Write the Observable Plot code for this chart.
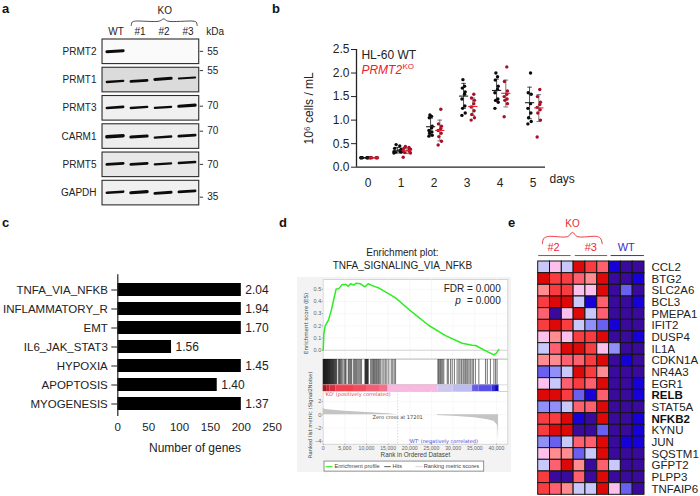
<!DOCTYPE html>
<html><head><meta charset="utf-8">
<script src="https://cdn.jsdelivr.net/npm/d3@7"></script>
<script src="https://cdn.jsdelivr.net/npm/@observablehq/plot@0.6"></script>
<style>
html,body{margin:0;padding:0;background:#fff}
#root{position:relative;width:700px;height:496px;overflow:hidden;font-family:"Liberation Sans",Arial,sans-serif}
#root svg{position:absolute;overflow:visible}
.tag{position:absolute;font-weight:bold;font-size:13px;line-height:13px;color:#111}
#gsea-bg{position:absolute;left:297px;top:277px;width:214px;height:195px;background:#f3f3f3}
</style></head><body><div id="root"><div id="gsea-bg"></div></div>
<script>
// ---------- panel a ----------
const blotRows = ["PRMT2","PRMT1","PRMT3","CARM1","PRMT5","GAPDH"];
const blotBackground = [0.02,0.14,0.06,0.07,0.09,0.06];
const blotLanes = ["WT","#1","#2","#3"];
const blotBandPos = [
  [0.42,null,null,null],
  [1.49,1.47,1.40,1.37],
  [2.41,2.41,2.41,2.35],
  [3.43,3.44,3.46,3.41],
  [4.41,4.41,4.41,4.36],
  [5.41,5.41,5.43,5.38]];
const blotBandStrength = [
  [3.0,0,0,0],
  [2.4,2.6,3.0,2.0],
  [2.6,2.4,2.2,3.2],
  [3.4,3.0,2.4,2.8],
  [2.8,2.8,2.2,2.4],
  [2.6,3.2,2.8,2.6]];
const kdaLabels = ["55","55","70","70","70","35"];
const kdaPos = [0.42,1.10,2.36,3.245,4.42,5.58];
const koBraceA = [[0.675,-0.495],[0.72,-0.62],[0.85,-0.65],[1.85,-0.65],[2.03,-0.73],[2.2,-0.65],[3.25,-0.65],[3.38,-0.62],[3.425,-0.495]];

// ---------- panel b ----------
const days = [0,1,2,3,4,5];
const wtCells = [
  [0.2,0.2,0.2,0.2,0.2,0.2],
  [0.30,0.32,0.32,0.33,0.33,0.35,0.38,0.40,0.45,0.48],
  [0.66,0.68,0.72,0.75,0.78,0.83,0.87,1.05,1.08,1.11],
  [1.10,1.15,1.25,1.30,1.45,1.55,1.60,1.68,1.72,1.86],
  [1.25,1.38,1.42,1.45,1.58,1.65,1.72,1.85,1.92,2.00],
  [0.92,0.97,1.05,1.15,1.25,1.35,1.55,1.58,2.00]];
const koCells = [
  [0.2,0.2,0.2,0.2,0.2,0.2],
  [0.21,0.30,0.31,0.33,0.35,0.36,0.38,0.40,0.42,0.44],
  [0.47,0.55,0.65,0.72,0.78,0.82,0.87,0.92,1.23],
  [1.00,1.05,1.12,1.20,1.28,1.35,1.42,1.47,1.55],
  [1.07,1.35,1.42,1.45,1.50,1.55,1.62,1.82,2.13],
  [0.64,1.00,1.15,1.22,1.27,1.33,1.38,1.50,1.65]];
const swarm = [-0.05,0.05,-0.03,0.04,-0.05,0.03,0.05,-0.04,0.03,-0.02];
const swarmSpread = [2.2,2.2,1,1,1,1];
const wtMean = [0.2,0.36,0.86,1.51,1.63,1.37];
const wtLow = [0.2,0.30,0.68,1.25,1.40,1.03];
const wtHigh = [0.2,0.42,1.04,1.78,1.87,1.70];
const koMean = [0.2,0.35,0.78,1.29,1.57,1.26];
const koLow = [0.2,0.29,0.56,1.10,1.28,0.97];
const koHigh = [0.2,0.41,1.00,1.47,1.85,1.54];

// ---------- panel c ----------
const sets = ["TNFA_VIA_NFKB","INFLAMMATORY_R","EMT","IL6_JAK_STAT3","HYPOXIA","APOPTOSIS","MYOGENESIS"];
const geneCounts = [200,200,200,87,200,161,200];
const nes = ["2.04","1.94","1.70","1.56","1.45","1.40","1.37"];

// ---------- panel d ----------
const esRank = [0,154,460,1230,1850,2460,3000,3620,4390,5160,5775,6310,7080,7620,8620,9625,10400,11320,12860,14780,16700,20550,24400,28250,32100,34400,35200,37100,39400,40000,40560];
const esValue = [0,0.136,0.2,0.249,0.325,0.42,0.503,0.505,0.54,0.54,0.525,0.545,0.535,0.55,0.545,0.52,0.545,0.53,0.51,0.47,0.429,0.312,0.203,0.12,0.057,0.041,0.039,0.003,-0.038,-0.024,0.005];
const hits = [0,60,130,200,270,340,420,490,570,640,720,800,880,960,1040,1120,1200,1290,1380,1470,1560,1650,1750,1850,1950,2050,2150,2260,2370,2480,2600,2720,2850,2980,3080,
 3480,3650,3800,3950,4150,4350,4600,4950,5120,5280,5790,5950,6150,6350,6530,6950,7200,7420,7640,7840,8100,8350,8620,8850,
 9640,9730,9820,9930,10020,10120,10220,10320,10400,10950,11200,11450,11600,11850,12050,12300,12500,12750,12950,13200,13600,14000,14350,14700,15150,15720,16050,16400,16700,
 26480,26650,26900,27100,27350,27600,27850,28650,28900,29400,29800,30300,30920,31320,31600,31950,32300,32550,32850,33150,33400,33700,34050,34400,34700,35150,35940,37480,37900,38620,39420,39800,40150];
const barStart = [0,800,1600,3000,7000,10000,13000,15000,26500,30000,34500,36000,39000,39800];
const barEnd = [800,1600,3000,7000,10000,13000,15000,26500,30000,34500,36000,39000,39800,40600];
const barScore = [5,4.4,3.8,3,2.8,2.5,2.2,1,-0.8,-1.2,-2.8,-3,-4,-5];
const metricRank = [0,300,1000,5000,10000,15000,17201,26400,26401,30000,35000,38000,39500,40300,40500];
const metricValue = [1.0,0.85,0.75,0.55,0.35,0.15,0,0,-0.1,-0.2,-0.45,-0.75,-1.0,-1.6,-4];
const esTicks = [0,0.1,0.2,0.3,0.4,0.5];
const metricTicks = [2,0,-2,-4];
const rankTicks = [0,5000,10000,15000,20000,25000,30000,35000,40000];

// ---------- panel e ----------
const heatGenes = ["CCL2","BTG2","SLC2A6","BCL3","PMEPA1","IFIT2","DUSP4","IL1A","CDKN1A","NR4A3","EGR1","RELB","STAT5A","NFKB2","KYNU","JUN","SQSTM1","GFPT2","PLPP3","TNFAIP6"];
const heatBold = ["RELB","NFKB2"];
const heatValues = [
 [-1,1,-1,5,4,3,-4,-5,-5],
 [5,4,4,3,2,5,-5,-5,-4],
 [2,4,4,1,1,5,-5,-3,-5],
 [4,5,5,-1,-4,3,-5,-5,-4],
 [3,-5,1,5,-1,3,-5,-5,-5],
 [4,5,4,-1,-2,-3,-4,-5,-5],
 [1,2,1,4,4,5,-5,-5,-4],
 [-1,3,5,5,4,1,-2,-5,-5],
 [2,2,3,3,4,5,-5,-4,-5],
 [-3,-2,-1,5,4,2,-5,-5,-5],
 [1,-1,3,4,3,5,-5,-5,-4],
 [5,5,4,-3,-4,3,-5,-5,-4],
 [-2,-2,-1,3,3,5,-5,-5,-5],
 [4,4,5,-4,-5,5,-5,-5,-4],
 [4,5,5,-5,-5,-3,-5,-5,-4],
 [-2,-3,-1,3,3,5,-5,-4,-4],
 [1,2,2,-3,-1,5,-5,-5,-5],
 [-1,3,5,2,-5,3,-1,-5,-5],
 [4,-5,-5,3,-5,5,-5,-5,-5],
 [4,3,2,-1,-1,5,1,-3,-5]];
const heatLevels = [-5,-4,-3,-2,-1,1,2,3,4,5];
const heatColors = ["#3a0a9c","#1800d8","#6a60f0","#9090f8","#c8c8fa","#fdc0ec","#ff8c90","#ff6070","#f83c40","#dd0808"];
const koBraceE = [[0.36,-1.52],[0.45,-1.95],[0.8,-2.14],[2.5,-2.14],[2.9,-2.5],[3.3,-2.14],[5.0,-2.14],[5.3,-1.95],[5.42,-1.52]];

// ---------- helpers ----------
const root = document.getElementById("root");
const FONT = '"Liberation Sans",Arial,sans-serif';
const JAVA = '"DejaVu Sans",sans-serif';
function place(plot,left,top){plot.style.left=left+"px";plot.style.top=top+"px";root.appendChild(plot);}
function tag(t,x,y){const d=document.createElement("div");d.className="tag";d.textContent=t;d.style.left=x+"px";d.style.top=y+"px";root.appendChild(d);}
const baseStyle = {fontFamily:FONT,background:"transparent",overflow:"visible"};
const soften = r => (i,s,v,d,c,next)=>{const g=next(i,s,v,d,c);g.style.filter=`blur(${r}px)`;return g;};
const zip = (a,b)=>a.map((v,i)=>[v,b[i]]);

// ---------- panel a ----------
{
  const rowsData = blotRows.map((r,i)=>({row:r,i,bg:blotBackground[i]}));
  const bands = blotBandPos.flatMap((row,i)=>row.map((y,l)=>({l,y,s:blotBandStrength[i][l]})).filter(d=>d.y!=null));
  const lanes = blotLanes.map((t,i)=>({t,i}));
  const kda = kdaLabels.map((t,i)=>({t,y:kdaPos[i]}));
  place(Plot.plot({
    width:250,height:215,margin:0,style:baseStyle,
    x:{domain:[-4.771,5.646],axis:null},
    y:{domain:[-1.38,6.228],axis:null,reverse:true},
    color:{type:"linear",domain:[0,1],range:["#ffffff","#000000"]},
    marks:[
      Plot.rect(rowsData,{x1:-0.52,x2:3.51,y1:d=>d.i,y2:d=>d.i+0.87,fill:"bg",stroke:"#2c2c2c",strokeWidth:1.1}),
      Plot.link(bands,{x1:d=>d.l-0.34,x2:d=>d.l+0.34,y1:d=>d.y+0.012,y2:d=>d.y-0.025,stroke:"#0c0c0c",strokeWidth:d=>d.s,strokeLinecap:"round",render:soften(0.6)}),
      Plot.text(rowsData,{x:-0.52,y:d=>d.i+0.43,text:"row",textAnchor:"end",dx:-6,fontSize:10,fill:"#222"}),
      Plot.text(lanes,{x:"i",y:-0.28,text:"t",fontSize:10,fill:"#222",dx:1}),
      Plot.text(["KO"],{x:2.07,y:-1.0,text:d=>d,fontSize:10,fill:"#222"}),
      Plot.text(["kDa"],{x:3.51,y:-0.28,text:d=>d,textAnchor:"start",dx:7,fontSize:10,fill:"#222"}),
      Plot.line(koBraceA,{x:d=>d[0],y:d=>d[1],stroke:"#222",strokeWidth:0.8,curve:"catmull-rom"}),
      Plot.link(kda,{x1:3.53,x2:3.67,y1:"y",y2:"y",stroke:"#222",strokeWidth:0.9}),
      Plot.text(kda,{x:3.51,y:"y",text:"t",textAnchor:"start",dx:8,fontSize:10,fill:"#222"})
    ]
  }),0,0);
}

// ---------- panel b ----------
{
  const OFF_WT=-0.11, OFF_KO=0.17;
  const pts=(arr,off,g)=>arr.flatMap((vals,day)=>vals.map((v,i)=>({x:day+off+swarm[i%swarm.length]*swarmSpread[day],v,g})));
  const stat=(m,lo,hi,off)=>days.map(d=>({x:d+off,m:m[d],lo:lo[d],hi:hi[d]}));
  const wS=stat(wtMean,wtLow,wtHigh,OFF_WT), kS=stat(koMean,koLow,koHigh,OFF_KO);
  const errs=(S,c)=>[
    Plot.ruleX(S,{x:"x",y1:"lo",y2:"hi",stroke:c,strokeWidth:0.8}),
    Plot.link(S,{x1:d=>d.x-0.07,x2:d=>d.x+0.07,y1:"lo",y2:"lo",stroke:c,strokeWidth:0.8}),
    Plot.link(S,{x1:d=>d.x-0.07,x2:d=>d.x+0.07,y1:"hi",y2:"hi",stroke:c,strokeWidth:0.8})];
  place(Plot.plot({
    width:300,height:210,marginLeft:86,marginRight:25,marginTop:49,marginBottom:43.3,style:baseStyle,
    x:{domain:[-0.355,5.373],axis:null},
    y:{domain:[0,2.5],axis:null},
    marks:[
      Plot.axisY({ticks:[0,0.5,1,1.5,2,2.5],tickFormat:d3.format(".1f"),tickSize:5,tickPadding:2,fontSize:12,label:null,stroke:"#222",fill:"#222"}),
      Plot.axisX({ticks:days,tickFormat:d=>d,tickSize:0,tickPadding:11,fontSize:12,label:null,fill:"#222"}),
      Plot.ruleX([-0.355],{stroke:"#222",strokeWidth:1.3}),
      Plot.ruleY([0],{stroke:"#222",strokeWidth:1.3}),
      ...errs(wS,"#222"),...errs(kS,"#555"),
      Plot.dot(pts(wtCells,OFF_WT,"WT"),{x:"x",y:"v",r:1.7,fill:"#0a0a0a"}),
      Plot.dot(pts(koCells,OFF_KO,"KO"),{x:"x",y:"v",r:1.7,fill:"#a80f28"}),
      Plot.link(wS,{x1:d=>d.x-0.14,x2:d=>d.x+0.14,y1:"m",y2:"m",stroke:"#222",strokeWidth:1.1}),
      Plot.link(kS,{x1:d=>d.x-0.14,x2:d=>d.x+0.14,y1:"m",y2:"m",stroke:"#e8202a",strokeWidth:1.1}),
      Plot.text(["HL-60 WT"],{x:-0.205,y:2.39,text:d=>d,textAnchor:"start",fontSize:12,fill:"#222"}),
      Plot.text(["PRMT2"],{x:-0.205,y:2.07,text:d=>d,textAnchor:"start",fontSize:12,fontStyle:"italic",fill:"#e8202a"}),
      Plot.text(["KO"],{x:1.04,y:2.15,text:d=>d,textAnchor:"start",fontSize:8,fill:"#e8202a"}),
      Plot.text(["10\u2076 cells / mL"],{x:-0.355,y:1.25,text:d=>d,rotate:-90,dx:-47,fontSize:12,fill:"#222"}),
      Plot.text(["days"],{x:5.373,y:0,text:d=>d,textAnchor:"start",dx:4,dy:12,fontSize:12,fill:"#222"})
    ]
  }),270,0);
}

// ---------- panel c ----------
{
  const rows=sets.map((s,i)=>({s,n:geneCounts[i],l:nes[i]}));
  place(Plot.plot({
    width:290,height:240,marginLeft:117.3,marginRight:18.3,marginTop:59.3,marginBottom:39,style:baseStyle,
    x:{domain:[0,250],axis:null},
    y:{domain:sets,axis:null,paddingInner:0.333,paddingOuter:0.386,align:0.568},
    marks:[
      Plot.barX(rows,{x:"n",y:"s",fill:"#000"}),
      Plot.axisY({tickSize:6,tickPadding:4,fontSize:11.5,label:null,stroke:"#222",fill:"#222"}),
      Plot.axisX({ticks:[0,50,100,150,200,250],tickSize:0,tickPadding:6,fontSize:11.5,label:null,fill:"#222"}),
      Plot.ruleX([0],{stroke:"#222",strokeWidth:1.2}),
      Plot.ruleY([0],{stroke:"#222",strokeWidth:1.2}),
      Plot.text(rows,{x:"n",y:"s",text:"l",textAnchor:"start",dx:4,fontSize:12,fill:"#222"}),
      Plot.text(["Number of genes"],{x:125,frameAnchor:"bottom",text:d=>d,dy:35,fontSize:12,fill:"#222"})
    ]
  }),0,215);
}

// ---------- panel d ----------
{
  const W=225,H=281,L=32.7,R=7.7, RANK=[0,42630], G="#666";
  const es=zip(esRank,esValue);
  place(Plot.plot({
    width:W,height:H,marginLeft:L,marginRight:R,marginTop:64,marginBottom:137.7,style:baseStyle,
    x:{domain:RANK,axis:null},y:{domain:[-0.07,0.58],axis:null},
    marks:[
      Plot.frame({fill:"#fff",stroke:"#ccc",strokeWidth:0.8}),
      Plot.gridX(rankTicks,{stroke:"#eee",strokeOpacity:1,strokeWidth:0.5}),
      Plot.gridY(esTicks,{stroke:"#eee",strokeOpacity:1,strokeWidth:0.5}),
      Plot.ruleY([0],{stroke:"#ccc",strokeWidth:0.8}),
      Plot.axisY({ticks:esTicks,tickFormat:d3.format(".1f"),tickSize:1,tickPadding:1,fontSize:5.5,label:null,fill:G,stroke:"#999"}),
      Plot.line(es,{x:d=>d[0],y:d=>d[1],stroke:"#2bee1e",strokeWidth:1.5}),
      Plot.text(["Enrichment plot:"],{x:18300,y:0.797,text:d=>d,fontSize:10,fill:"#222"}),
      Plot.text(["TNFA_SIGNALING_VIA_NFKB"],{x:18300,y:0.695,text:d=>d,fontSize:10,fill:"#222"}),
      Plot.text(["FDR = 0.000"],{x:41000,y:0.50,text:d=>d,textAnchor:"end",fontSize:10,fill:"#222"}),
      Plot.text(["p"],{x:41000,y:0.405,text:d=>d,textAnchor:"end",dx:-40,fontSize:10,fontStyle:"italic",fill:"#222"}),
      Plot.text(["= 0.000"],{x:41000,y:0.405,text:d=>d,textAnchor:"end",fontSize:10,fill:"#222"}),
      Plot.text(["Enrichment score (ES)"],{x:0,y:0.22,text:d=>d,rotate:-90,dx:-17,fontSize:5.5,fontFamily:JAVA,fill:"#444"})
    ]
  }),290,215);

  const segs=barStart.map((s,i)=>({s,e:barEnd[i],v:barScore[i]}));
  place(Plot.plot({
    width:W,height:H,marginLeft:L,marginRight:R,marginTop:144,marginBottom:105,style:baseStyle,
    x:{domain:RANK,axis:null},y:{domain:[0,1],axis:null},
    color:{type:"linear",domain:[-5,-3,-1,1,3,5],range:["#0a0ac0","#5a50e8","#c8c8f0","#f8b8e0","#f04050","#a81820"]},
    marks:[
      Plot.frame({fill:"#fff",stroke:"#ccc",strokeWidth:0.8}),
      Plot.ruleX(hits,{y1:0.21,y2:1,stroke:"#000",strokeWidth:1.1,strokeOpacity:0.5}),
      Plot.rect(segs,{x1:"s",x2:"e",y1:0,y2:0.21,fill:"v"}),
      Plot.ruleY([0.21],{stroke:"#bbb",strokeWidth:0.5})
    ]
  }),290,215);

  const met=zip(metricRank,metricValue);
  place(Plot.plot({
    width:W,height:H,marginLeft:L,marginRight:R,marginTop:176,marginBottom:52.3,style:baseStyle,
    x:{domain:RANK,axis:null},y:{domain:[-4.45,3.53],axis:null},
    marks:[
      Plot.frame({fill:"#fff",stroke:"#ccc",strokeWidth:0.8}),
      Plot.gridX(rankTicks,{stroke:"#f0f0f0",strokeOpacity:1,strokeWidth:0.5}),
      Plot.gridY(metricTicks,{stroke:"#f0f0f0",strokeOpacity:1,strokeWidth:0.5}),
      Plot.areaY(met,{x:d=>d[0],y1:0,y2:d=>d[1],fill:"#c4c4c4"}),
      Plot.ruleX([17201],{stroke:"#ccc",strokeWidth:0.7,strokeDasharray:"1.5,1.5"}),
      Plot.axisY({ticks:metricTicks,tickSize:1,tickPadding:1,fontSize:5.5,label:null,fill:G,stroke:"#999"}),
      Plot.axisX({ticks:rankTicks,tickFormat:d3.format(","),tickSize:1,tickPadding:1,fontSize:5.2,label:null,fill:G,stroke:"#999"}),
      Plot.text(["'KO' (positively correlated)"],{x:300,y:3.05,text:d=>d,textAnchor:"start",fontSize:5,fontFamily:JAVA,fill:"#e8404a"}),
      Plot.text(["Zero cross at 17201"],{x:17201,y:-0.4,text:d=>d,fontSize:5,fontFamily:JAVA,fill:"#444"}),
      Plot.text(["'WT' (negatively correlated)"],{x:27700,y:-3.95,text:d=>d,fontSize:5,fontFamily:JAVA,fill:"#4848e0"}),
      Plot.text(["Ranked list metric (Signal2Noise)"],{x:0,y:0,text:d=>d,rotate:-90,dx:-13,fontSize:5.2,fontFamily:JAVA,fill:"#444"}),
      Plot.text(["Rank in Ordered Dataset"],{x:21300,y:-6.15,text:d=>d,fontSize:6.3,fill:"#444"}),
      Plot.rect([[300,37180]],{x1:d=>d[0],x2:d=>d[1],y1:-7.08,y2:-8.6,fill:"#fff",stroke:"#777",strokeWidth:0.8}),
      Plot.link([[550,2150]],{x1:d=>d[0],x2:d=>d[1],y1:-7.85,y2:-7.85,stroke:"#2bee1e",strokeWidth:1.1}),
      Plot.text(["Enrichment profile"],{x:2600,y:-7.85,text:d=>d,textAnchor:"start",fontSize:5.6,fill:"#444"}),
      Plot.link([[14100,15600]],{x1:d=>d[0],x2:d=>d[1],y1:-7.85,y2:-7.85,stroke:"#333",strokeWidth:0.8}),
      Plot.text(["Hits"],{x:16000,y:-7.85,text:d=>d,textAnchor:"start",fontSize:5.6,fill:"#444"}),
      Plot.link([[21300,22900]],{x1:d=>d[0],x2:d=>d[1],y1:-7.85,y2:-7.85,stroke:"#ccc",strokeWidth:0.8}),
      Plot.text(["Ranking metric scores"],{x:23200,y:-7.85,text:d=>d,textAnchor:"start",fontSize:5.6,fill:"#444"})
    ]
  }),290,215);
}

// ---------- panel e ----------
{
  const cells=heatValues.flatMap((row,i)=>row.map((v,j)=>({i,j,v})));
  const names=heatGenes.map((g,i)=>({g,i}));
  const RED="#ea2a30", BLUE="#3a2cd0";
  place(Plot.plot({
    width:185,height:281,marginLeft:22.7,marginRight:56,marginTop:46,marginBottom:1.7,style:baseStyle,
    x:{domain:[0,9],axis:null},y:{domain:[0,20],axis:null,reverse:true},
    color:{type:"ordinal",domain:heatLevels,range:heatColors},
    marks:[
      Plot.rect(cells,{x1:"j",x2:d=>d.j+1,y1:"i",y2:d=>d.i+1,fill:"v",stroke:"#151515",strokeWidth:1}),
      Plot.text(names.filter(d=>!heatBold.includes(d.g)),{x:9,y:d=>d.i+0.5,text:"g",textAnchor:"start",dx:7,fontSize:11.5,fill:"#222"}),
      Plot.text(names.filter(d=>heatBold.includes(d.g)),{x:9,y:d=>d.i+0.5,text:"g",textAnchor:"start",dx:7,fontSize:11.5,fontWeight:"bold",fill:"#111"}),
      Plot.text(["KO"],{x:2.9,y:-3.26,text:d=>d,fontSize:10,fill:RED}),
      Plot.text(["#2"],{x:1.3,y:-1.2,text:d=>d,fontSize:11,fill:RED}),
      Plot.text(["#3"],{x:4.45,y:-1.2,text:d=>d,fontSize:11,fill:RED}),
      Plot.text(["WT"],{x:7.45,y:-1.2,text:d=>d,fontSize:11,fill:BLUE}),
      Plot.line(koBraceE,{x:d=>d[0],y:d=>d[1],stroke:RED,strokeWidth:0.9,curve:"catmull-rom"}),
      Plot.link([[0,2.74]],{x1:d=>d[0],x2:d=>d[1],y1:-0.51,y2:-0.51,stroke:RED,strokeWidth:1}),
      Plot.link([[3.1,5.84]],{x1:d=>d[0],x2:d=>d[1],y1:-0.51,y2:-0.51,stroke:RED,strokeWidth:1}),
      Plot.link([[6.13,8.95]],{x1:d=>d[0],x2:d=>d[1],y1:-0.51,y2:-0.51,stroke:BLUE,strokeWidth:1})
    ]
  }),515,215);
}

tag("a",2,2);tag("b",272,2);tag("c",2,216);tag("d",279,216);tag("e",508,216);
</script></body></html>
